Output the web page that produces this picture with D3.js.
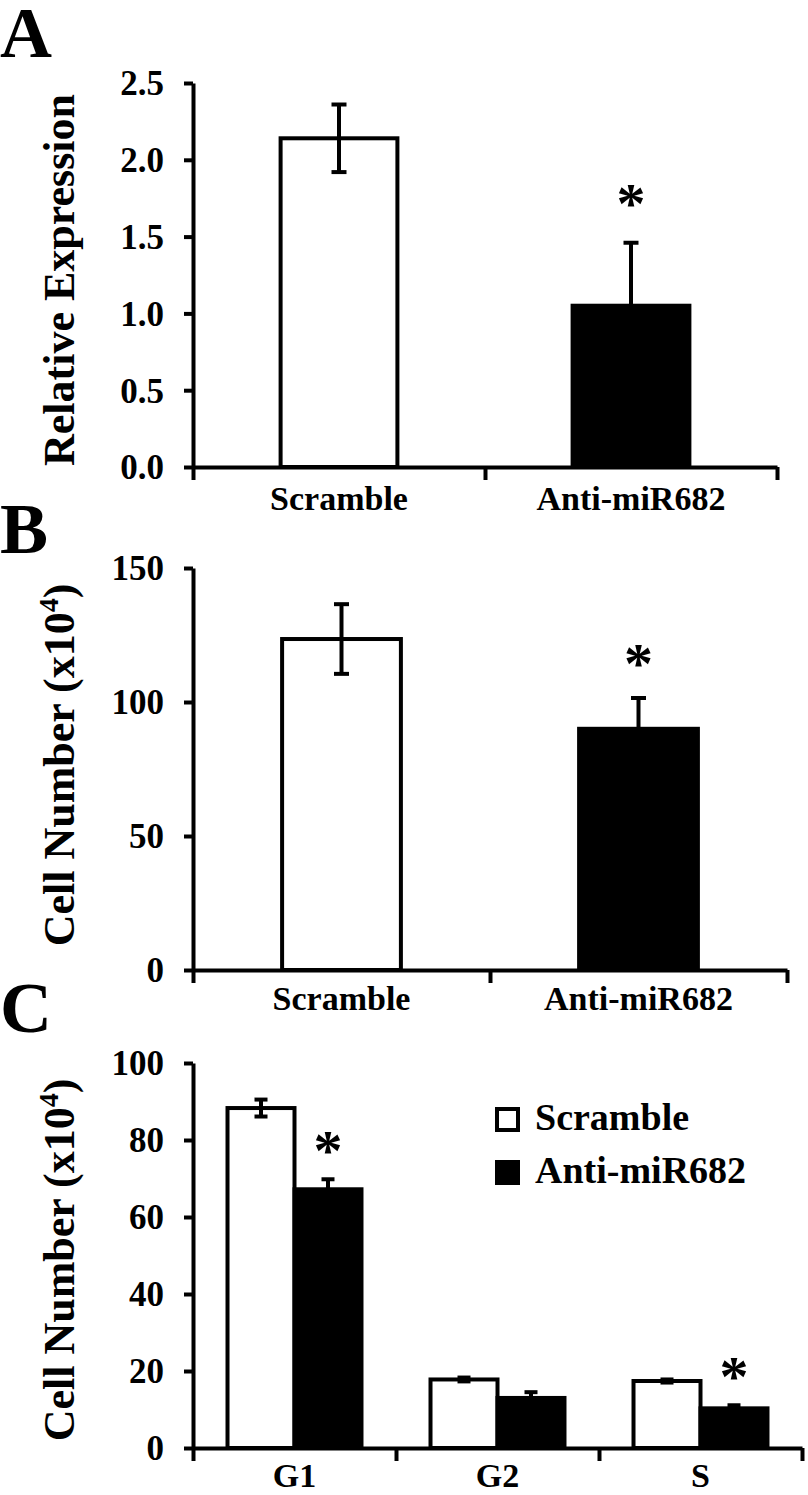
<!DOCTYPE html>
<html>
<head>
<meta charset="utf-8">
<script src="https://cdn.jsdelivr.net/npm/d3@7"></script>
<style>
  body { margin: 0; background: #fff; }
  text { font-family: "Liberation Serif", "Times New Roman", serif; font-weight: bold; fill: #000; }
</style>
</head>
<body>
<script>
// Panel A - relative expression
const categoriesA = ["Scramble", "Anti-miR682"];
const expressionValues = [2.14, 1.05];
const expressionErrors = [0.22, 0.41];
const expressionTicks = [0, 0.5, 1.0, 1.5, 2.0, 2.5];
const expressionStars = [false, true];

// Panel B - cell number
const categoriesB = ["Scramble", "Anti-miR682"];
const cellValues = [123.5, 90];
const cellErrors = [13, 11.5];
const cellTicks = [0, 50, 100, 150];
const cellStars = [false, true];

// Panel C - cell cycle phases
const phases = ["G1", "G2", "S"];
const seriesNames = ["Scramble", "Anti-miR682"];
const scrambleCounts = [88.3, 17.8, 17.4];
const scrambleErrors = [2.2, 0.5, 0.4];
const antiCounts = [67.2, 13.0, 10.3];
const antiErrors = [2.6, 1.5, 0.8];
const antiStars = [true, false, true];
const phaseTicks = [0, 20, 40, 60, 80, 100];

window.onload = () => {
  const svg = d3.select("body").append("svg")
    .attr("width", 808)
    .attr("height", 1495);

  const seriesFill = ["#fff", "#000"];

  // y axis + boundary ticks + y title, shared by all panels
  const drawFrame = (g, y, ticks, fmt, x0, x1, n, titleParts, titleY) => {
    const yAxis = d3.axisLeft(y)
      .tickValues(ticks)
      .tickFormat(fmt)
      .tickSize(9)
      .tickSizeOuter(0)
      .tickPadding(20);
    const yg = g.append("g").attr("transform", `translate(${x0},0)`).call(yAxis);
    yg.selectAll("path, line").attr("stroke", "#000").attr("stroke-width", 4);
    yg.selectAll("text").style("font-size", "35px").attr("dy", "0.34em");

    // ticks at category boundaries, pointing down
    const bound = d3.scaleLinear().domain([0, n]).range([x0, x1]);
    const xAxis = d3.axisBottom(bound)
      .ticks(n)
      .tickFormat("")
      .tickSize(13)
      .tickSizeOuter(0);
    const xg = g.append("g").attr("transform", `translate(0,${y(0)})`).call(xAxis);
    xg.selectAll("path, line").attr("stroke", "#000").attr("stroke-width", 4);

    const t = g.append("text")
      .attr("transform", `translate(74,${titleY}) rotate(-90)`)
      .attr("text-anchor", "middle")
      .style("font-size", "44px");
    t.append("tspan").text(titleParts[0]);
    if (titleParts.length > 1) {
      t.append("tspan").attr("dy", -16).style("font-size", "28px").text(titleParts[1]);
      t.append("tspan").attr("dy", 16).text(titleParts[2]);
    }
  };

  const errorBar = (g, cx, y, v, e, cap) => {
    g.append("line").attr("x1", cx).attr("x2", cx).attr("y1", y(v + e)).attr("y2", y(v - e));
    g.append("line").attr("x1", cx - cap / 2).attr("x2", cx + cap / 2).attr("y1", y(v + e)).attr("y2", y(v + e));
    g.append("line").attr("x1", cx - cap / 2).attr("x2", cx + cap / 2).attr("y1", y(v - e)).attr("y2", y(v - e));
  };

  const star = (g, cx, cy) => {
    g.append("text")
      .attr("x", cx)
      .attr("y", cy + 26)
      .attr("text-anchor", "middle")
      .style("font-size", "58px")
      .text("*");
  };

  const simplePanel = (p) => {
    const g = svg.append("g");
    const y = d3.scaleLinear().domain([0, p.ticks[p.ticks.length - 1]]).range([p.y0, p.y1]);
    const x = d3.scaleBand().domain(p.categories).range([p.x0, p.x1]).paddingInner(0.6).paddingOuter(0.3);

    g.selectAll("rect.bar")
      .data(p.values)
      .enter()
      .append("rect")
      .attr("class", "bar")
      .attr("x", (d, i) => x(p.categories[i]))
      .attr("width", x.bandwidth())
      .attr("y", d => y(d))
      .attr("height", d => y(0) - y(d))
      .attr("fill", (d, i) => seriesFill[i])
      .attr("stroke", "#000")
      .attr("stroke-width", 4);

    const eg = g.append("g").attr("stroke", "#000").attr("stroke-width", 4);
    p.values.forEach((v, i) => {
      const cx = x(p.categories[i]) + x.bandwidth() / 2;
      errorBar(eg, cx, y, v, p.errors[i], 15);
      if (p.stars[i]) star(g, cx, y(v + p.errors[i]) - p.starGap);
    });

    drawFrame(g, y, p.ticks, p.fmt, p.x0, p.x1, p.categories.length, p.title, p.titleY);

    g.selectAll("text.cat")
      .data(p.categories)
      .enter()
      .append("text")
      .attr("class", "cat")
      .attr("x", d => x(d) + x.bandwidth() / 2)
      .attr("y", p.y0 + p.labelGap)
      .attr("text-anchor", "middle")
      .style("font-size", "34px")
      .text(d => d);

    g.append("text").attr("x", 0).attr("y", p.letterY).style("font-size", "72px").text(p.letter);
  };

  simplePanel({
    categories: categoriesA, values: expressionValues, errors: expressionErrors,
    ticks: expressionTicks, fmt: d3.format(".1f"), stars: expressionStars,
    x0: 193, x1: 777, y0: 467, y1: 83, labelGap: 43, starGap: 46,
    title: ["Relative Expression"], titleY: 280, letter: "A", letterY: 57
  });

  simplePanel({
    categories: categoriesB, values: cellValues, errors: cellErrors,
    ticks: cellTicks, fmt: d3.format("d"), stars: cellStars,
    x0: 193, x1: 787, y0: 970, y1: 568, labelGap: 40, starGap: 41,
    title: ["Cell Number (x10", "4", ")"], titleY: 765, letter: "B", letterY: 553
  });

  // Panel C - grouped bars
  const gC = svg.append("g");
  const yC = d3.scaleLinear().domain([0, 100]).range([1448, 1063]);
  const xC = d3.scaleBand().domain(phases).range([193, 802]).paddingInner(0.34).paddingOuter(0.17);
  const xInner = d3.scaleBand().domain(seriesNames).range([0, xC.bandwidth()]);
  const seriesValues = [scrambleCounts, antiCounts];
  const seriesErrors = [scrambleErrors, antiErrors];

  seriesNames.forEach((s, si) => {
    gC.selectAll(`rect.s${si}`)
      .data(seriesValues[si])
      .enter()
      .append("rect")
      .attr("class", `s${si}`)
      .attr("x", (d, i) => xC(phases[i]) + xInner(s))
      .attr("width", xInner.bandwidth())
      .attr("y", d => yC(d))
      .attr("height", d => yC(0) - yC(d))
      .attr("fill", seriesFill[si])
      .attr("stroke", "#000")
      .attr("stroke-width", 4);
  });

  const egC = gC.append("g").attr("stroke", "#000").attr("stroke-width", 4);
  seriesNames.forEach((s, si) => {
    seriesValues[si].forEach((v, i) => {
      const cx = xC(phases[i]) + xInner(s) + xInner.bandwidth() / 2;
      errorBar(egC, cx, yC, v, seriesErrors[si][i], 13);
      if (si === 1 && antiStars[i]) star(gC, cx, yC(v + seriesErrors[si][i]) - 35);
    });
  });

  drawFrame(gC, yC, phaseTicks, d3.format("d"), 193, 802, phases.length,
    ["Cell Number (x10", "4", ")"], 1260);

  gC.selectAll("text.cat")
    .data(phases)
    .enter()
    .append("text")
    .attr("class", "cat")
    .attr("x", d => xC(d) + xC.bandwidth() / 2)
    .attr("y", 1487)
    .attr("text-anchor", "middle")
    .style("font-size", "34px")
    .text(d => d);

  gC.append("text").attr("x", 0).attr("y", 1032).style("font-size", "72px").text("C");

  // legend
  const legend = gC.append("g").attr("transform", "translate(497,1109)");
  seriesNames.forEach((s, i) => {
    const row = legend.append("g").attr("transform", `translate(0,${i * 53})`);
    row.append("rect")
      .attr("width", 21).attr("height", 21)
      .attr("fill", seriesFill[i])
      .attr("stroke", "#000")
      .attr("stroke-width", 4);
    row.append("text")
      .attr("x", 38)
      .attr("y", 21)
      .style("font-size", "38px")
      .text(s);
  });
};
</script>
</body>
</html>
